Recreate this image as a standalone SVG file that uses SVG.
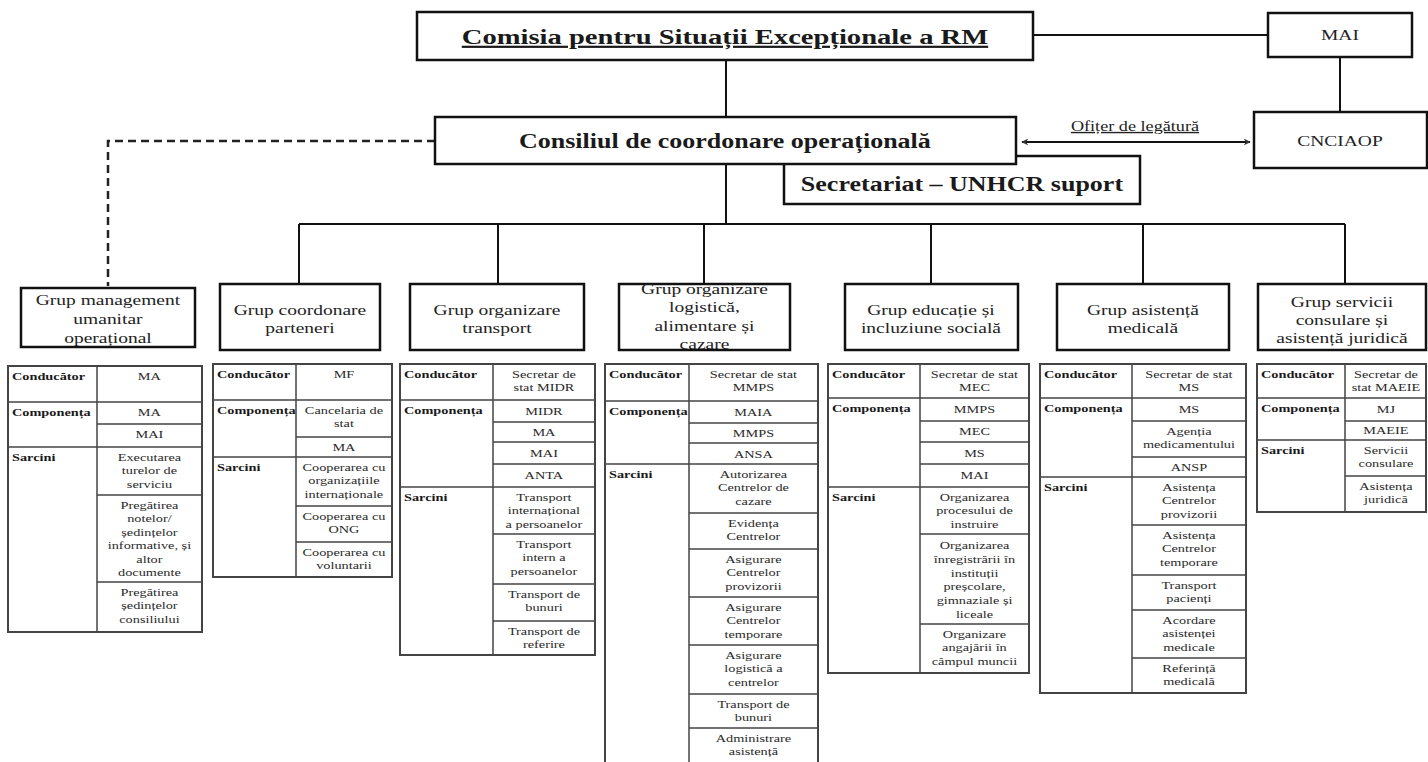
<svg xmlns="http://www.w3.org/2000/svg" width="1428" height="762" viewBox="0 0 1428 762" font-family="'Liberation Serif', 'Times New Roman', serif">
<style>
text{font-family:'Liberation Serif','Times New Roman',serif;fill:#1a1a1a;transform:scaleX(1.3);transform-box:fill-box}
.c{font-size:11px;text-anchor:middle;transform-origin:center;fill:#2a2a2a}
.l{font-size:11px;font-weight:bold;text-anchor:start;transform-origin:left center}
.g{font-size:15px;text-anchor:middle;transform-origin:center;fill:#222}
.h{font-weight:bold;text-anchor:middle;transform-origin:center}
.s{font-size:15px;text-anchor:middle;transform-origin:center;fill:#222}
.box{fill:#fff;stroke:#111;stroke-width:2.5}
.tb{fill:#fff;stroke:#444;stroke-width:2}
.ln{stroke:#444;stroke-width:1.5;fill:none}
.cn{stroke:#111;stroke-width:2;fill:none}
</style>
<defs>
<marker id="ah" viewBox="0 0 10 10" refX="9" refY="5" markerWidth="7" markerHeight="7" orient="auto-start-reverse" markerUnits="userSpaceOnUse">
<path d="M0,0 L10,5 L0,10 L3,5 z" fill="#333"/>
</marker>
</defs>
<rect width="1428" height="762" fill="#fff"/>

<g id="connectors">
<line class="cn" x1="1033" y1="35" x2="1268" y2="35"/>
<line class="cn" x1="726" y1="60" x2="726" y2="117"/>
<line class="cn" x1="1340" y1="57" x2="1340" y2="112"/>
<line class="cn" x1="1022" y1="142" x2="1250" y2="142" marker-start="url(#ah)" marker-end="url(#ah)"/>
<polyline points="435,141 108,141 108,286" fill="none" stroke="#222" stroke-width="2.5" stroke-dasharray="8,5"/>
<line class="cn" x1="726" y1="164" x2="726" y2="224"/>
<line class="cn" x1="299" y1="224" x2="1345" y2="224"/>
<line class="cn" x1="299" y1="224" x2="299" y2="284"/>
<line class="cn" x1="498" y1="224" x2="498" y2="284"/>
<line class="cn" x1="704" y1="224" x2="704" y2="284"/>
<line class="cn" x1="931" y1="224" x2="931" y2="284"/>
<line class="cn" x1="1143" y1="224" x2="1143" y2="284"/>
<line class="cn" x1="1345" y1="224" x2="1345" y2="284"/>
<text class="s" x="1135" y="131" style="font-size:14px;text-decoration:underline">Ofițer de legătură</text>
</g>

<g id="comisia">
<rect class="box" x="417" y="12" width="616" height="48"/>
<text class="h" x="725" y="44" style="font-size:22px;text-decoration:underline">Comisia pentru Situații Excepționale a RM</text>
</g>
<g id="mai">
<rect class="box" x="1268" y="13" width="144" height="44"/>
<text class="s" x="1340" y="40">MAI</text>
</g>
<g id="cnciaop">
<rect class="box" x="1254" y="112" width="173" height="56"/>
<text class="s" x="1340" y="146">CNCIAOP</text>
</g>
<g id="secretariat">
<rect class="box" x="784" y="156" width="356" height="48"/>
<text class="h" x="962" y="191" style="font-size:20px">Secretariat – UNHCR suport</text>
</g>
<g id="consiliul">
<rect class="box" x="435" y="117" width="581" height="47"/>
<text class="h" x="725" y="148" style="font-size:20px">Consiliul de coordonare operațională</text>
</g>

<g id="grup1">
<rect class="box" x="21" y="288" width="174" height="59"/>
<text class="g" x="108" y="305"><tspan x="108">Grup management</tspan><tspan x="108" dy="19">umanitar</tspan><tspan x="108" dy="19">operațional</tspan></text>
</g>
<g id="grup2">
<rect class="box" x="220" y="284" width="160" height="66"/>
<text class="g" x="300" y="315"><tspan x="300">Grup coordonare</tspan><tspan x="300" dy="18">parteneri</tspan></text>
</g>
<g id="grup3">
<rect class="box" x="410" y="284" width="174" height="66"/>
<text class="g" x="497" y="315"><tspan x="497">Grup organizare</tspan><tspan x="497" dy="18">transport</tspan></text>
</g>
<g id="grup4">
<rect class="box" x="619" y="284" width="171" height="66"/>
<text class="g" x="704.5" y="294"><tspan x="704.5">Grup organizare</tspan><tspan x="704.5" dy="18.5">logistică,</tspan><tspan x="704.5" dy="18.5">alimentare și</tspan><tspan x="704.5" dy="18.5">cazare</tspan></text>
</g>
<g id="grup5">
<rect class="box" x="845" y="284" width="173" height="66"/>
<text class="g" x="931" y="315"><tspan x="931">Grup educație și</tspan><tspan x="931" dy="18">incluziune socială</tspan></text>
</g>
<g id="grup6">
<rect class="box" x="1057" y="284" width="172" height="66"/>
<text class="g" x="1143" y="315"><tspan x="1143">Grup asistență</tspan><tspan x="1143" dy="18">medicală</tspan></text>
</g>
<g id="grup7">
<rect class="box" x="1258" y="284" width="168" height="66"/>
<text class="g" x="1342" y="307"><tspan x="1342">Grup servicii</tspan><tspan x="1342" dy="18">consulare și</tspan><tspan x="1342" dy="18">asistență juridică</tspan></text>
</g>

<g id="tabel1">
<rect class="tb" x="8" y="366" width="194" height="266"/>
<path class="ln" d="M97,366V632 M8,402H202 M8,447H202 M97,424H202 M97,495H202 M97,582H202"/>
<text class="l" x="12" y="380">Conducător</text>
<text class="l" x="12" y="416">Componența</text>
<text class="l" x="12" y="461">Sarcini</text>
<text class="c" x="149.5" y="380">MA</text>
<text class="c" x="149.5" y="416">MA</text>
<text class="c" x="149.5" y="438">MAI</text>
<text class="c" x="149.5" y="461"><tspan x="149.5">Executarea</tspan><tspan x="149.5" dy="13.5">turelor de</tspan><tspan x="149.5" dy="13.5">serviciu</tspan></text>
<text class="c" x="149.5" y="509"><tspan x="149.5">Pregătirea</tspan><tspan x="149.5" dy="13.5">notelor/</tspan><tspan x="149.5" dy="13.5">ședințelor</tspan><tspan x="149.5" dy="13.5">informative, și</tspan><tspan x="149.5" dy="13.5">altor</tspan><tspan x="149.5" dy="13.5">documente</tspan></text>
<text class="c" x="149.5" y="596"><tspan x="149.5">Pregătirea</tspan><tspan x="149.5" dy="13.5">ședințelor</tspan><tspan x="149.5" dy="13.5">consiliului</tspan></text>
</g>

<g id="tabel2">
<rect class="tb" x="213" y="364" width="179" height="213"/>
<path class="ln" d="M296,364V577 M213,400H392 M213,457H392 M296,437H392 M296,506H392 M296,542H392"/>
<text class="l" x="217" y="378">Conducător</text>
<text class="l" x="217" y="414">Componența</text>
<text class="l" x="217" y="471">Sarcini</text>
<text class="c" x="344" y="378">MF</text>
<text class="c" x="344" y="414"><tspan x="344">Cancelaria de</tspan><tspan x="344" dy="13">stat</tspan></text>
<text class="c" x="344" y="451">MA</text>
<text class="c" x="344" y="471"><tspan x="344">Cooperarea cu</tspan><tspan x="344" dy="13.5">organizațiile</tspan><tspan x="344" dy="13.5">internaționale</tspan></text>
<text class="c" x="344" y="520"><tspan x="344">Cooperarea cu</tspan><tspan x="344" dy="13.5">ONG</tspan></text>
<text class="c" x="344" y="556"><tspan x="344">Cooperarea cu</tspan><tspan x="344" dy="13.5">voluntarii</tspan></text>
</g>

<g id="tabel3">
<rect class="tb" x="400" y="364" width="195" height="291"/>
<path class="ln" d="M493,364V655 M400,400H595 M400,487H595 M493,422H595 M493,442H595 M493,464H595 M493,534H595 M493,584H595 M493,621H595"/>
<text class="l" x="404" y="378">Conducător</text>
<text class="l" x="404" y="414">Componența</text>
<text class="l" x="404" y="501">Sarcini</text>
<text class="c" x="544" y="378"><tspan x="544">Secretar de</tspan><tspan x="544" dy="13.5">stat MIDR</tspan></text>
<text class="c" x="544" y="415">MIDR</text>
<text class="c" x="544" y="436">MA</text>
<text class="c" x="544" y="457">MAI</text>
<text class="c" x="544" y="479">ANTA</text>
<text class="c" x="544" y="501"><tspan x="544">Transport</tspan><tspan x="544" dy="13.5">internațional</tspan><tspan x="544" dy="13.5">a persoanelor</tspan></text>
<text class="c" x="544" y="548"><tspan x="544">Transport</tspan><tspan x="544" dy="13.5">intern a</tspan><tspan x="544" dy="13.5">persoanelor</tspan></text>
<text class="c" x="544" y="598"><tspan x="544">Transport de</tspan><tspan x="544" dy="13.5">bunuri</tspan></text>
<text class="c" x="544" y="635"><tspan x="544">Transport de</tspan><tspan x="544" dy="13.5">referire</tspan></text>
</g>

<g id="tabel4">
<rect class="tb" x="605" y="364" width="213" height="410"/>
<path class="ln" d="M689,364V774 M605,401H818 M605,464H818 M689,423H818 M689,443H818 M689,513H818 M689,549H818 M689,597H818 M689,645H818 M689,694H818 M689,728H818"/>
<text class="l" x="609" y="378">Conducător</text>
<text class="l" x="609" y="415">Componența</text>
<text class="l" x="609" y="478">Sarcini</text>
<text class="c" x="753.5" y="378"><tspan x="753.5">Secretar de stat</tspan><tspan x="753.5" dy="13.5">MMPS</tspan></text>
<text class="c" x="753.5" y="416">MAIA</text>
<text class="c" x="753.5" y="437">MMPS</text>
<text class="c" x="753.5" y="458">ANSA</text>
<text class="c" x="753.5" y="478"><tspan x="753.5">Autorizarea</tspan><tspan x="753.5" dy="13.5">Centrelor de</tspan><tspan x="753.5" dy="13.5">cazare</tspan></text>
<text class="c" x="753.5" y="527"><tspan x="753.5">Evidența</tspan><tspan x="753.5" dy="13.5">Centrelor</tspan></text>
<text class="c" x="753.5" y="563"><tspan x="753.5">Asigurare</tspan><tspan x="753.5" dy="13.5">Centrelor</tspan><tspan x="753.5" dy="13.5">provizorii</tspan></text>
<text class="c" x="753.5" y="611"><tspan x="753.5">Asigurare</tspan><tspan x="753.5" dy="13.5">Centrelor</tspan><tspan x="753.5" dy="13.5">temporare</tspan></text>
<text class="c" x="753.5" y="659"><tspan x="753.5">Asigurare</tspan><tspan x="753.5" dy="13.5">logistică a</tspan><tspan x="753.5" dy="13.5">centrelor</tspan></text>
<text class="c" x="753.5" y="708"><tspan x="753.5">Transport de</tspan><tspan x="753.5" dy="13.5">bunuri</tspan></text>
<text class="c" x="753.5" y="742"><tspan x="753.5">Administrare</tspan><tspan x="753.5" dy="13.5">asistență</tspan></text>
</g>

<g id="tabel5">
<rect class="tb" x="828" y="364" width="201" height="309"/>
<path class="ln" d="M920,364V673 M828,398H1029 M828,487H1029 M920,421H1029 M920,442H1029 M920,464H1029 M920,534H1029 M920,624H1029"/>
<text class="l" x="832" y="378">Conducător</text>
<text class="l" x="832" y="412">Componența</text>
<text class="l" x="832" y="501">Sarcini</text>
<text class="c" x="974.5" y="378"><tspan x="974.5">Secretar de stat</tspan><tspan x="974.5" dy="13.5">MEC</tspan></text>
<text class="c" x="974.5" y="413">MMPS</text>
<text class="c" x="974.5" y="435">MEC</text>
<text class="c" x="974.5" y="457">MS</text>
<text class="c" x="974.5" y="479">MAI</text>
<text class="c" x="974.5" y="501"><tspan x="974.5">Organizarea</tspan><tspan x="974.5" dy="13.5">procesului de</tspan><tspan x="974.5" dy="13.5">instruire</tspan></text>
<text class="c" x="974.5" y="549"><tspan x="974.5">Organizarea</tspan><tspan x="974.5" dy="13.8">înregistrării în</tspan><tspan x="974.5" dy="13.8">instituții</tspan><tspan x="974.5" dy="13.8">preșcolare,</tspan><tspan x="974.5" dy="13.8">gimnaziale și</tspan><tspan x="974.5" dy="13.8">liceale</tspan></text>
<text class="c" x="974.5" y="638"><tspan x="974.5">Organizare</tspan><tspan x="974.5" dy="13.5">angajării în</tspan><tspan x="974.5" dy="13.5">câmpul muncii</tspan></text>
</g>

<g id="tabel6">
<rect class="tb" x="1040" y="364" width="206" height="329"/>
<path class="ln" d="M1132,364V693 M1040,398H1246 M1040,477H1246 M1132,421H1246 M1132,457H1246 M1132,525H1246 M1132,575H1246 M1132,610H1246 M1132,658H1246"/>
<text class="l" x="1044" y="378">Conducător</text>
<text class="l" x="1044" y="412">Componența</text>
<text class="l" x="1044" y="491">Sarcini</text>
<text class="c" x="1189" y="378"><tspan x="1189">Secretar de stat</tspan><tspan x="1189" dy="13.5">MS</tspan></text>
<text class="c" x="1189" y="413">MS</text>
<text class="c" x="1189" y="435"><tspan x="1189">Agenția</tspan><tspan x="1189" dy="13.5">medicamentului</tspan></text>
<text class="c" x="1189" y="471">ANSP</text>
<text class="c" x="1189" y="491"><tspan x="1189">Asistența</tspan><tspan x="1189" dy="13.5">Centrelor</tspan><tspan x="1189" dy="13.5">provizorii</tspan></text>
<text class="c" x="1189" y="539"><tspan x="1189">Asistența</tspan><tspan x="1189" dy="13.5">Centrelor</tspan><tspan x="1189" dy="13.5">temporare</tspan></text>
<text class="c" x="1189" y="589"><tspan x="1189">Transport</tspan><tspan x="1189" dy="13.5">pacienți</tspan></text>
<text class="c" x="1189" y="624"><tspan x="1189">Acordare</tspan><tspan x="1189" dy="13.5">asistenței</tspan><tspan x="1189" dy="13.5">medicale</tspan></text>
<text class="c" x="1189" y="672"><tspan x="1189">Referință</tspan><tspan x="1189" dy="13.5">medicală</tspan></text>
</g>

<g id="tabel7">
<rect class="tb" x="1257" y="364" width="169" height="148"/>
<path class="ln" d="M1345,364V512 M1257,398H1426 M1257,440H1426 M1345,421H1426 M1345,476H1426"/>
<text class="l" x="1261" y="378">Conducător</text>
<text class="l" x="1261" y="412">Componența</text>
<text class="l" x="1261" y="454">Sarcini</text>
<text class="c" x="1386" y="378"><tspan x="1386">Secretar de</tspan><tspan x="1386" dy="13.5">stat MAEIE</tspan></text>
<text class="c" x="1386" y="413">MJ</text>
<text class="c" x="1386" y="434">MAEIE</text>
<text class="c" x="1386" y="454"><tspan x="1386">Servicii</tspan><tspan x="1386" dy="13.5">consulare</tspan></text>
<text class="c" x="1386" y="490"><tspan x="1386">Asistența</tspan><tspan x="1386" dy="13.5">juridică</tspan></text>
</g>
</svg>
